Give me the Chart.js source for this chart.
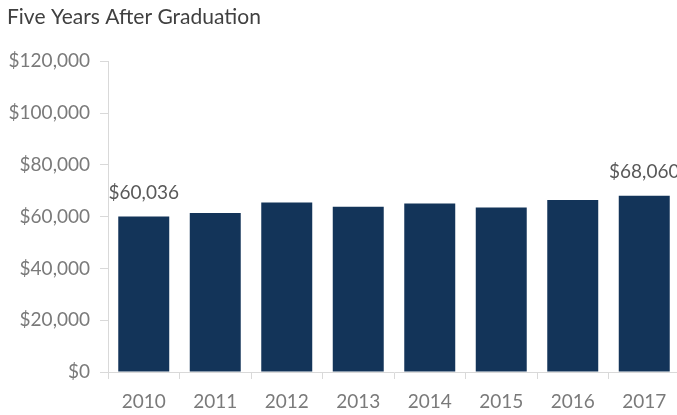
<!DOCTYPE html>
<html>
<head>
<meta charset="utf-8">
<script src="https://cdn.jsdelivr.net/npm/chart.js@4"></script>
<style>
  html, body { margin: 0; padding: 0; background: #fff; overflow: hidden; }
  #wrap { width: 680px; height: 415px; }
</style>
</head>
<body>
<div id="wrap"><canvas id="chart" width="680" height="415"></canvas></div>
<script>
// Salario medio, cinco años después de graduarse
const years = ["2010", "2011", "2012", "2013", "2014", "2015", "2016", "2017"];
const salaries = [60036, 61350, 65480, 63780, 65090, 63550, 66370, 68060];
const yTicks = [0, 20000, 40000, 60000, 80000, 100000, 120000];
const labeledBars = [0, 7]; // solo primera y última llevan etiqueta

const money = v => "$" + v.toLocaleString("en-US");

// etiquetas encima de las barras
const barLabels = {
  id: "barLabels",
  afterDatasetsDraw(chart) {
    const ctx = chart.ctx;
    const meta = chart.getDatasetMeta(0);
    ctx.save();
    ctx.font = "19px Lato";
    ctx.fillStyle = "#595959";
    ctx.textAlign = "center";
    ctx.textBaseline = "middle";
    labeledBars.forEach(i => {
      const bar = meta.data[i];
      ctx.fillText(money(salaries[i]), bar.x, bar.y - 24);
    });
    ctx.restore();
  }
};

new Chart(document.getElementById("chart"), {
  type: "bar",
  data: {
    labels: years,
    datasets: [{
      data: salaries,
      backgroundColor: "#133459",
      barPercentage: 0.713,
      categoryPercentage: 1
    }]
  },
  options: {
    responsive: false,
    animation: false,
    layout: { padding: { left: 7, right: 0, top: 0, bottom: 0 } },
    plugins: {
      legend: { display: false },
      tooltip: { enabled: false },
      title: {
        display: true,
        text: "Five Years After Graduation",
        align: "start",
        color: "#404040",
        font: { family: "Lato", size: 21, weight: "normal" },
        padding: { top: 5, bottom: 31 }
      }
    },
    scales: {
      x: {
        grid: { offset: true, drawOnChartArea: false, color: "#d9d9d9", tickLength: 7 },
        border: { color: "#d9d9d9" },
        ticks: { color: "#7a7a7a", font: { family: "Lato", size: 19 }, padding: 11 },
        afterFit(scale) { scale.height = 43; }
      },
      y: {
        min: 0,
        max: 120000,
        afterBuildTicks(scale) { scale.ticks = yTicks.map(v => ({ value: v })); },
        grid: { drawOnChartArea: false, color: "#d9d9d9", tickLength: 8 },
        border: { color: "#d9d9d9" },
        ticks: {
          color: "#7a7a7a",
          font: { family: "Lato", size: 19 },
          padding: 10,
          callback: v => money(v)
        },
        afterFit(scale) { scale.width = 101; }
      }
    }
  },
  plugins: [barLabels]
});
</script>
</body>
</html>
